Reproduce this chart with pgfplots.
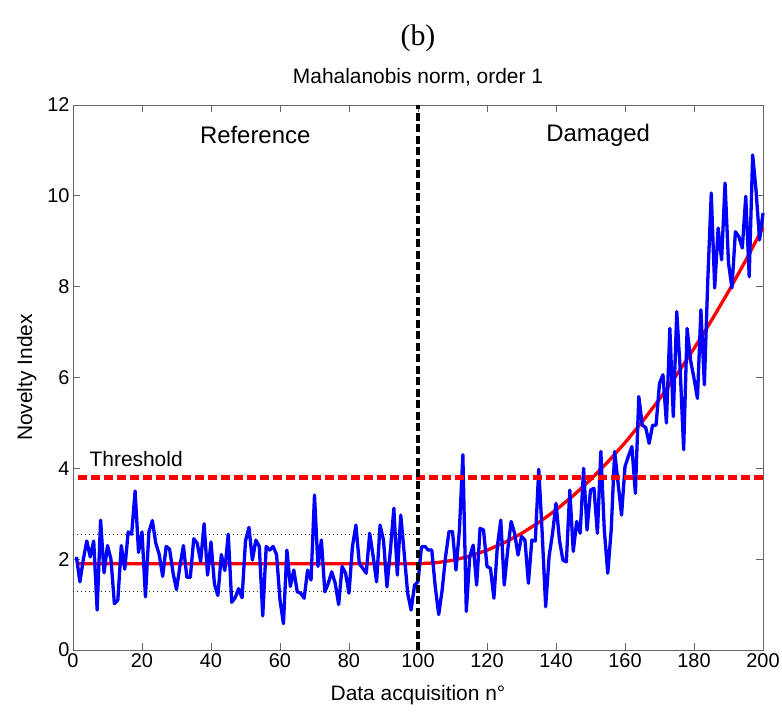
\documentclass[border=0pt]{standalone}
\usepackage{pgfplots}
\pgfplotsset{compat=1.18}
\usepackage{fontspec}
\setmainfont{Liberation Sans}
\newfontfamily\timesfont{Liberation Serif}

\pgfplotstableread{
x y
1 2.05
2 1.50
3 2.00
4 2.40
5 2.05
6 2.40
7 0.88
8 2.86
9 1.70
10 2.30
11 2.00
12 1.02
13 1.10
14 2.30
15 1.78
16 2.60
17 2.55
18 3.50
19 2.15
20 2.60
21 1.17
22 2.60
23 2.85
24 2.35
25 2.10
26 1.62
27 2.28
28 2.22
29 1.70
30 1.33
31 1.85
32 2.30
33 1.60
34 1.60
35 2.45
36 2.35
37 1.95
38 2.78
39 1.65
40 2.38
41 1.45
42 1.20
43 2.10
44 1.75
45 2.55
46 1.05
47 1.15
48 1.35
49 1.15
50 2.40
51 2.70
52 1.98
53 2.42
54 2.28
55 0.75
56 2.28
57 2.20
58 2.28
59 2.10
60 1.10
61 0.58
62 2.20
63 1.40
64 1.76
65 1.28
66 1.25
67 1.14
68 1.76
69 1.54
70 3.41
71 1.84
72 2.42
73 1.28
74 1.47
75 1.72
76 1.47
77 1.00
78 1.84
79 1.69
80 1.25
81 2.28
82 2.75
83 1.90
84 1.80
85 1.69
86 2.57
87 2.06
88 1.50
89 2.75
90 2.42
91 1.39
92 2.20
93 3.12
94 1.65
95 2.97
96 2.13
97 1.25
98 0.88
99 1.43
100 1.50
101 2.27
102 2.28
103 2.20
104 2.20
105 1.39
106 0.78
107 1.32
108 2.06
109 2.61
110 2.61
111 1.76
112 2.64
113 4.30
114 0.85
115 2.06
116 2.31
117 1.43
118 2.68
119 2.64
120 1.84
121 1.80
122 1.14
123 2.28
124 2.86
125 1.43
126 2.20
127 2.83
128 2.57
129 2.09
130 2.50
131 2.42
132 1.47
133 2.42
134 2.40
135 3.98
136 2.57
137 0.95
138 2.06
139 2.57
140 3.23
141 2.42
142 1.98
143 1.94
144 3.52
145 2.17
146 2.83
147 2.57
148 4.00
149 2.64
150 3.52
151 3.56
152 2.57
153 4.37
154 2.64
155 1.69
156 2.64
157 4.37
158 3.67
159 2.97
160 4.04
161 4.27
162 4.48
163 3.45
164 5.58
165 4.95
166 4.90
167 4.55
168 4.95
169 4.95
170 5.87
171 6.06
172 5.00
173 7.08
174 5.14
175 7.45
176 6.17
177 4.41
178 7.08
179 6.38
180 5.98
181 5.54
182 7.49
183 5.84
184 8.15
185 10.06
186 7.97
187 9.29
188 8.59
189 10.28
190 8.52
191 7.97
192 9.21
193 9.10
194 8.85
195 9.99
196 8.22
197 10.90
198 10.10
199 9.03
200 9.62
}\noveltydata

\pgfplotstableread{
x y
1 1.90
100 1.90
105 1.919
110 1.974
115 2.067
120 2.196
125 2.363
130 2.566
135 2.807
140 3.084
145 3.399
150 3.750
155 4.139
160 4.564
165 5.027
170 5.526
175 6.063
180 6.636
185 7.247
190 7.894
195 8.579
200 9.300
}\fitdata

\begin{document}
\begin{tikzpicture}
\path[use as bounding box] (-73bp,-65bp) rectangle (709bp,650bp);
\begin{axis}[
  at={(0,0)}, anchor=south west,
  scale only axis,
  width=690bp, height=545bp,
  xmin=0, xmax=200, ymin=0, ymax=12,
  xtick={0,20,...,200}, ytick={0,2,...,12},
  tick align=inside,
  major tick length=7bp,
  axis line style={black!60, line width=0.9bp},
  every tick/.style={black!60, line width=0.9bp},
  /pgf/number format/assume math mode=true,
  tick label style={font=\fontsize{20}{24}\selectfont},
  title={Mahalanobis norm, order 1},
  title style={at={(axis description cs:0.5,1.04)}, anchor=center, font=\fontsize{21}{25}\selectfont},
  xlabel={Data acquisition n°},
  xlabel style={at={(axis description cs:0.5,-0.083)}, anchor=center, font=\fontsize{21}{25}\selectfont},
  ylabel={Novelty Index},
  ylabel style={at={(axis description cs:-0.067,0.5)}, anchor=center, font=\fontsize{21}{25}\selectfont},
  clip=false,
]
\addplot[black!85, line width=1.2bp, dash pattern=on 1.3bp off 2.7bp] coordinates {(0,2.55) (100,2.55)};
\addplot[black!85, line width=1.2bp, dash pattern=on 1.3bp off 2.7bp] coordinates {(0,1.28) (100,1.28)};
\addplot[red, line width=3.3bp] table[x=x,y=y] {\fitdata};
\addplot[blue, line width=3.3bp, line join=round] table[x=x,y=y] {\noveltydata};
\addplot[red, line width=4.5bp, dash pattern=on 9bp off 4bp] coordinates {(1.5,3.8) (200,3.8)};
\addplot[black, line width=3.2bp, dash pattern=on 8bp off 3.5bp] coordinates {(100,0) (100,12)};
\node[font=\fontsize{24}{28}\selectfont] at (axis cs:52.8,11.34) {Reference};
\node[font=\fontsize{24}{28}\selectfont] at (axis cs:152.2,11.34) {Damaged};
\node[anchor=west, font=\fontsize{21}{25}\selectfont] at (axis cs:3.8,4.2) {Threshold};
\node[font=\timesfont\fontsize{30}{34}\selectfont] at (axis description cs:0.5,1.123) {(b)};
\end{axis}
\end{tikzpicture}
\end{document}
